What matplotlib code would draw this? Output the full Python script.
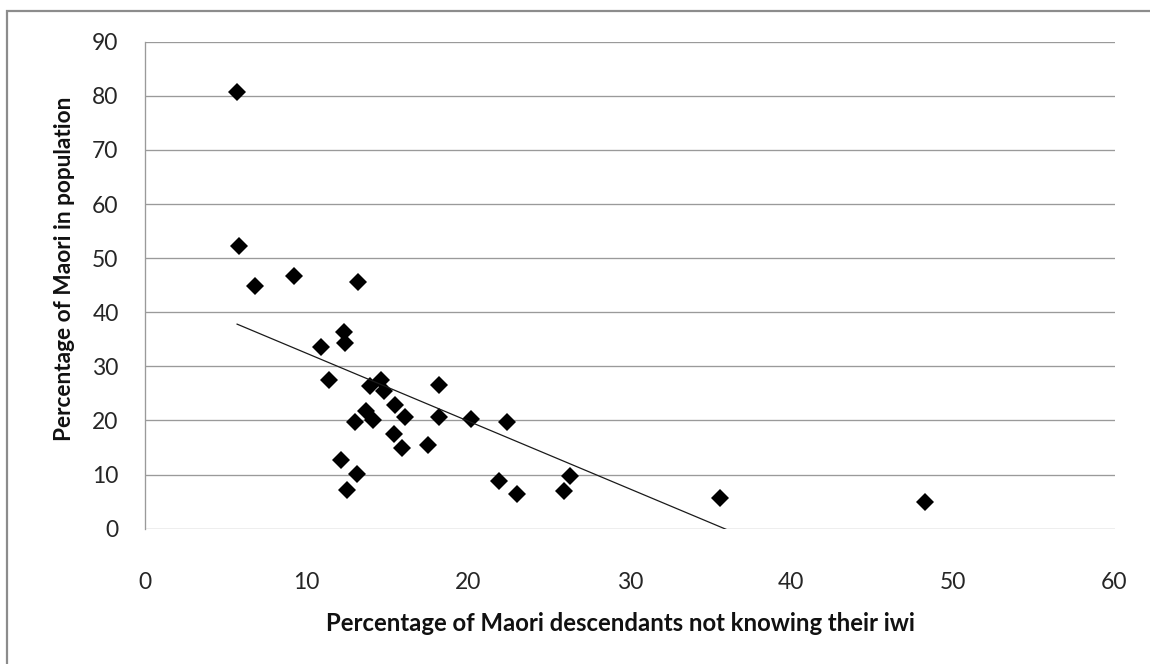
import numpy as np
import matplotlib
matplotlib.use("Agg")
import matplotlib.pyplot as plt
from matplotlib.patches import Rectangle

# % of Maori descendants not knowing their iwi, per district
not_knowing_iwi = [5.7, 5.8, 6.8, 9.2, 13.2,
                   12.3, 12.4, 10.9, 11.4, 13.9, 14.6, 14.8, 18.2,
                   15.5, 13.7, 14.1, 13.0, 16.1, 18.2, 20.2, 22.4,
                   15.4, 15.9, 17.5, 12.1, 13.1, 12.5, 21.9, 23.0,
                   25.9, 26.3, 35.6, 48.3]
# % of Maori in the population
maori_share = [80.7, 52.3, 44.9, 46.7, 45.5,
               36.3, 34.4, 33.5, 27.5, 26.4, 27.5, 25.5, 26.6,
               22.9, 21.8, 20.1, 19.7, 20.7, 20.7, 20.3, 19.7,
               17.5, 14.9, 15.5, 12.7, 10.1, 7.2, 8.8, 6.4,
               7.0, 9.8, 5.7, 4.9]

x_ticks = [0, 10, 20, 30, 40, 50, 60]
y_ticks = [0, 10, 20, 30, 40, 50, 60, 70, 80, 90]

plt.rcParams['font.family'] = ['Lato', 'DejaVu Sans']

W, H = 1150, 664
fig = plt.figure(figsize=(W / 100, H / 100), dpi=100)
fig.patch.set_facecolor('white')

# chart border (only top and left edges fall inside the image)
fig.patches.append(Rectangle((7 / W, -0.2), 1.5, (H - 11) / H + 0.2,
                             transform=fig.transFigure, fill=False,
                             edgecolor='#8c8c8c', linewidth=1.6))

left, right = 145 / W, 1114.5 / W
bottom, top = (H - 528.7) / H, (H - 41.7) / H
ax = fig.add_axes([left, bottom, right - left, top - bottom])

ax.set_xlim(0, 60)
ax.set_ylim(0, 90)
ax.set_xticks(x_ticks)
ax.set_yticks(y_ticks)
ax.tick_params(length=0, labelsize=16.5, labelcolor='#262626')
ax.tick_params(axis='x', pad=31)
ax.tick_params(axis='y', pad=19)

ax.grid(axis='y', color='#9a9a9a', linewidth=0.95)
ax.set_axisbelow(True)
for side in ['top', 'right', 'bottom']:
    ax.spines[side].set_visible(False)
ax.spines['left'].set_color('#9a9a9a')
ax.spines['left'].set_linewidth(0.95)

ax.plot(not_knowing_iwi, maori_share, linestyle='none', marker='D',
        markersize=9.5, color='black', markeredgewidth=0)

# linear trend line across the data range
slope, intercept = np.polyfit(not_knowing_iwi, maori_share, 1)
xs = np.array([min(not_knowing_iwi), max(not_knowing_iwi)])
ax.plot(xs, slope * xs + intercept, color='#1a1a1a', linewidth=0.9)

ax.set_xlabel('Percentage of Maori descendants not knowing their iwi',
              fontsize=17.2, fontweight='bold', va='center', color='#111111')
ax.xaxis.set_label_coords(0.490, -0.194)
ax.set_ylabel('Percentage of Maori in population',
              fontsize=16.3, fontweight='bold', va='center', color='#111111')
ax.yaxis.set_label_coords(-0.083, 0.534)

fig.savefig('out.png', dpi=100)
